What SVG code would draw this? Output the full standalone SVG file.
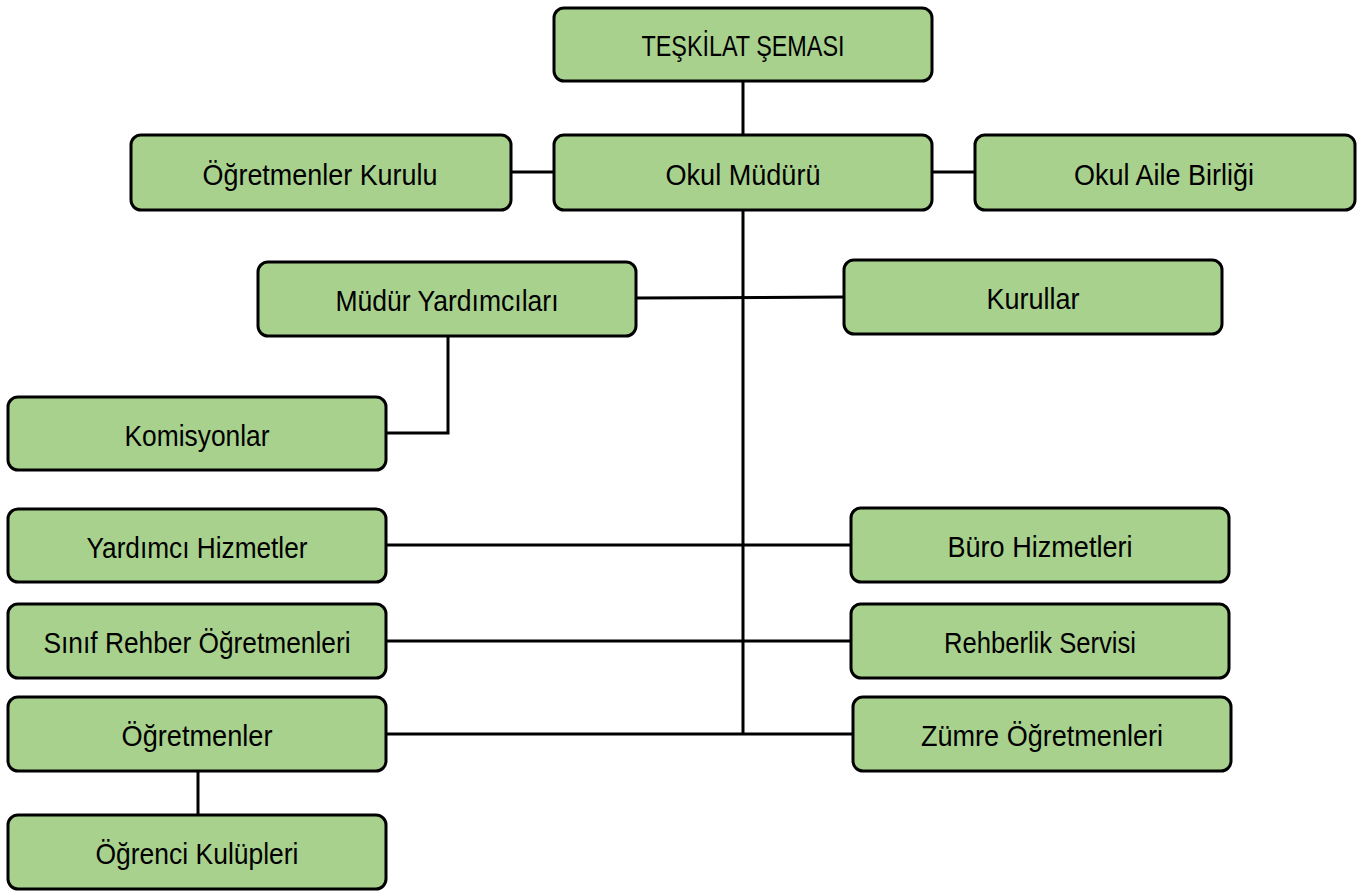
<svg xmlns="http://www.w3.org/2000/svg" width="1372" height="893" viewBox="0 0 1372 893">
<style>
.box{fill:#a9d18e;stroke:#000;stroke-width:3;}
.lbl{font-family:"Liberation Sans",Arial,sans-serif;font-size:30px;fill:#000;text-anchor:middle;}
.con{stroke:#000;stroke-width:3;fill:none;}
</style>
<rect width="1372" height="893" fill="#fff"/>
<g id="connectors">
<line class="con" x1="743" y1="81" x2="743" y2="135"/>
<line class="con" x1="743" y1="210" x2="743" y2="734"/>
<line class="con" x1="511" y1="172" x2="554" y2="172"/>
<line class="con" x1="932" y1="172" x2="975" y2="172"/>
<line class="con" x1="636" y1="298" x2="844" y2="297"/>
<polyline class="con" points="448,336 448,433 386,433"/>
<line class="con" x1="386" y1="545" x2="851" y2="545"/>
<line class="con" x1="386" y1="641" x2="851" y2="641"/>
<line class="con" x1="386" y1="734" x2="853" y2="734"/>
<line class="con" x1="198" y1="771" x2="198" y2="815"/>
</g>
<g id="n-teskilat"><rect class="box" x="554" y="8" width="378" height="73" rx="10"/><text class="lbl" x="743" y="56" textLength="203" lengthAdjust="spacingAndGlyphs">TEŞKİLAT ŞEMASI</text></g>
<g id="n-mudur"><rect class="box" x="554" y="135" width="378" height="75" rx="10"/><text class="lbl" x="743" y="185" textLength="155" lengthAdjust="spacingAndGlyphs">Okul Müdürü</text></g>
<g id="n-ogrkurulu"><rect class="box" x="131" y="135" width="380" height="75" rx="10"/><text class="lbl" x="320" y="185" textLength="235" lengthAdjust="spacingAndGlyphs">Öğretmenler Kurulu</text></g>
<g id="n-aile"><rect class="box" x="975" y="135" width="380" height="75" rx="10"/><text class="lbl" x="1164" y="185" textLength="180" lengthAdjust="spacingAndGlyphs">Okul Aile Birliği</text></g>
<g id="n-yardimcilar"><rect class="box" x="258" y="262" width="378" height="74" rx="10"/><text class="lbl" x="447" y="311" textLength="223" lengthAdjust="spacingAndGlyphs">Müdür Yardımcıları</text></g>
<g id="n-kurullar"><rect class="box" x="844" y="260" width="378" height="74" rx="10"/><text class="lbl" x="1033" y="309" textLength="93" lengthAdjust="spacingAndGlyphs">Kurullar</text></g>
<g id="n-komisyonlar"><rect class="box" x="8" y="397" width="378" height="73" rx="10"/><text class="lbl" x="197" y="446" textLength="145" lengthAdjust="spacingAndGlyphs">Komisyonlar</text></g>
<g id="n-yardimci"><rect class="box" x="8" y="509" width="378" height="73" rx="10"/><text class="lbl" x="197" y="558" textLength="221" lengthAdjust="spacingAndGlyphs">Yardımcı Hizmetler</text></g>
<g id="n-sinif"><rect class="box" x="8" y="604" width="378" height="74" rx="10"/><text class="lbl" x="197" y="653" textLength="307" lengthAdjust="spacingAndGlyphs">Sınıf Rehber Öğretmenleri</text></g>
<g id="n-ogretmenler"><rect class="box" x="8" y="697" width="378" height="74" rx="10"/><text class="lbl" x="197" y="746" textLength="151" lengthAdjust="spacingAndGlyphs">Öğretmenler</text></g>
<g id="n-kulupler"><rect class="box" x="8" y="815" width="378" height="74" rx="10"/><text class="lbl" x="197" y="864" textLength="203" lengthAdjust="spacingAndGlyphs">Öğrenci Kulüpleri</text></g>
<g id="n-buro"><rect class="box" x="851" y="508" width="378" height="74" rx="10"/><text class="lbl" x="1040" y="557" textLength="185" lengthAdjust="spacingAndGlyphs">Büro Hizmetleri</text></g>
<g id="n-rehberlik"><rect class="box" x="851" y="604" width="378" height="74" rx="10"/><text class="lbl" x="1040" y="653" textLength="192" lengthAdjust="spacingAndGlyphs">Rehberlik Servisi</text></g>
<g id="n-zumre"><rect class="box" x="853" y="697" width="378" height="74" rx="10"/><text class="lbl" x="1042" y="746" textLength="242" lengthAdjust="spacingAndGlyphs">Zümre Öğretmenleri</text></g>
</svg>
